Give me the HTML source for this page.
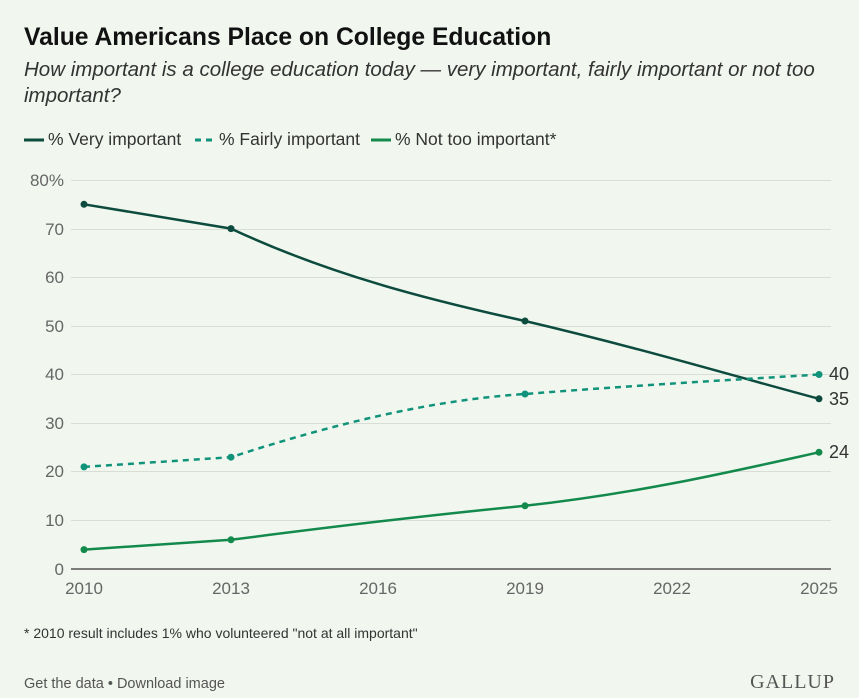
<!DOCTYPE html>
<html><head><meta charset="utf-8"><style>
body{margin:0;background:#f1f7ef;font-family:"Liberation Sans",sans-serif;}
.w{position:relative;width:859px;height:698px;background:#f1f7ef;overflow:hidden}
h1{position:absolute;left:24px;top:24px;margin:0;font-size:24.7px;font-weight:bold;color:#111;}
.sub{position:absolute;left:24px;top:57px;width:820px;font-size:20.5px;font-style:italic;color:#333;line-height:26px}
</style></head><body><div class="w">
<h1>Value Americans Place on College Education</h1>
<div class="sub">How important is a college education today — very important, fairly important or not too important?</div>
<svg width="859" height="698" style="position:absolute;left:0;top:0" font-family="Liberation Sans, sans-serif">
<g font-size="17.5" fill="#333">
<line x1="24" y1="140" x2="44" y2="140" stroke="#0c4b3e" stroke-width="3"/><text x="48" y="145">% Very important</text>
<line x1="195" y1="140" x2="215" y2="140" stroke="#10937a" stroke-width="3" stroke-dasharray="6,5"/><text x="219" y="145">% Fairly important</text>
<line x1="371" y1="140" x2="391" y2="140" stroke="#138a4c" stroke-width="3"/><text x="395" y="145">% Not too important*</text>
</g>
<g stroke="#d8ddd6" stroke-width="1">
<line x1="71" x2="831" y1="180.5" y2="180.5"/><line x1="71" x2="831" y1="229.5" y2="229.5"/><line x1="71" x2="831" y1="277.5" y2="277.5"/><line x1="71" x2="831" y1="326.5" y2="326.5"/><line x1="71" x2="831" y1="374.5" y2="374.5"/><line x1="71" x2="831" y1="423.5" y2="423.5"/><line x1="71" x2="831" y1="471.5" y2="471.5"/><line x1="71" x2="831" y1="520.5" y2="520.5"/>
</g>
<line x1="71" x2="831" y1="569" y2="569" stroke="#555" stroke-width="1.5"/>
<g font-size="17" fill="#666" text-anchor="end">
<text x="64" y="186">80%</text><text x="64" y="235">70</text><text x="64" y="283">60</text><text x="64" y="332">50</text><text x="64" y="380">40</text><text x="64" y="429">30</text><text x="64" y="477">20</text><text x="64" y="526">10</text><text x="64" y="575">0</text>
</g>
<g font-size="17" fill="#666" text-anchor="middle">
<text x="84" y="594">2010</text><text x="231" y="594">2013</text><text x="378" y="594">2016</text><text x="525" y="594">2019</text><text x="672" y="594">2022</text><text x="819" y="594">2025</text>
</g>
<path d="M84,204.3 L231,228.6 C330,275 430,300 525,321 C640,348 730,375 819,398.8" fill="none" stroke="#0c4b3e" stroke-width="2.5"/>
<path d="M84,466.9 L231,457.2 C330,425 430,400 525,394 C640,385 730,380 819,374.5" fill="none" stroke="#10937a" stroke-width="2.5" stroke-dasharray="6,5"/>
<path d="M84,549.6 L231,539.8 C330,527 430,515 525,505.8 C640,493 730,472 819,452.3" fill="none" stroke="#138a4c" stroke-width="2.5"/>
<g fill="#0c4b3e"><circle cx="84" cy="204.3" r="3.5"/><circle cx="231" cy="228.6" r="3.5"/><circle cx="525" cy="321" r="3.5"/><circle cx="819" cy="398.8" r="3.5"/></g>
<g fill="#10937a"><circle cx="84" cy="466.9" r="3.5"/><circle cx="231" cy="457.2" r="3.5"/><circle cx="525" cy="394" r="3.5"/><circle cx="819" cy="374.5" r="3.5"/></g>
<g fill="#138a4c"><circle cx="84" cy="549.6" r="3.5"/><circle cx="231" cy="539.8" r="3.5"/><circle cx="525" cy="505.8" r="3.5"/><circle cx="819" cy="452.3" r="3.5"/></g>
<g font-size="18" fill="#333"><text x="829" y="380">40</text><text x="829" y="405">35</text><text x="829" y="458">24</text></g>
<text x="24" y="638" font-size="14" fill="#333">* 2010 result includes 1% who volunteered "not at all important"</text>
<text x="24" y="688" font-size="14.5" fill="#555">Get the data • Download image</text>
<text x="835" y="688" font-size="20" fill="#555" text-anchor="end" font-family="Liberation Serif, serif" letter-spacing="1">GALLUP</text>
</svg>
</div></body></html>
